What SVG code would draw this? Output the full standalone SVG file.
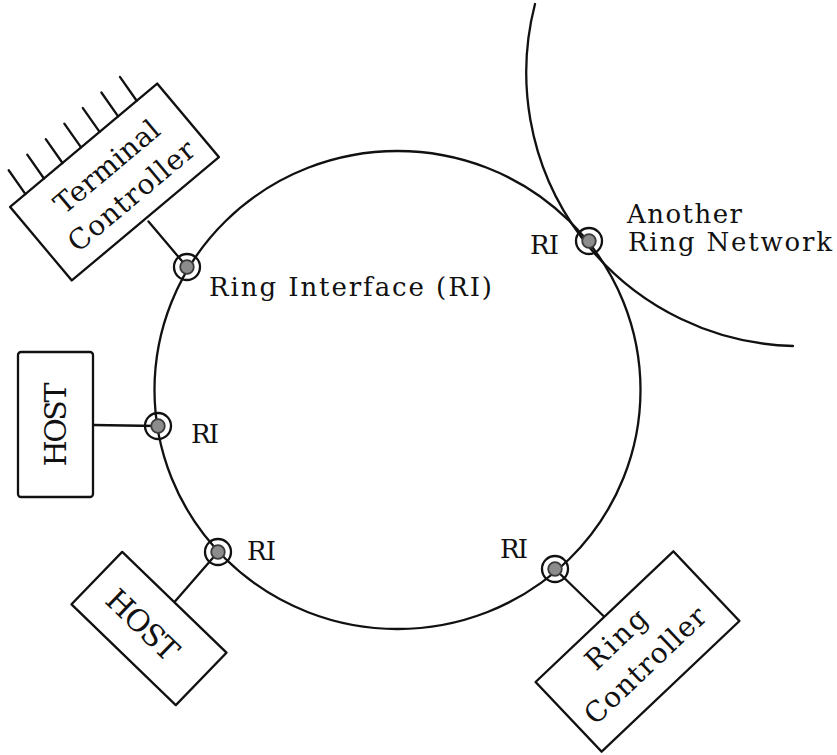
<svg xmlns="http://www.w3.org/2000/svg" xmlns:xlink="http://www.w3.org/1999/xlink" width="837" height="755" viewBox="0 0 837 755">
  <style>
    .line { fill: none; stroke: #111; stroke-width: 2.3; stroke-linecap: round; }
    .box { fill: #fff; stroke: #111; stroke-width: 2.3; stroke-linejoin: round; }
    .lbl { font-family: "DejaVu Serif", "Liberation Serif", serif; font-size: 26px; fill: #111; }
    .inbox { font-size: 28px; }
    .host { font-size: 30px; }
  </style>
  <defs>
    <!-- ring interface: open ring with a shaded core -->
    <g id="ri">
      <circle r="13" fill="none" stroke="#111" stroke-width="2.3"/>
      <circle r="6.8" fill="#8c8c8c" stroke="#3a3a3a" stroke-width="1.8"/>
    </g>
  </defs>
  <rect width="837" height="755" fill="#fff"/>

  <!-- rings and attachment lines -->
  <g id="connectors">
    <ellipse class="line" cx="397.5" cy="390" rx="243" ry="239"/>
    <path class="line" d="M535,4 A273.5,273.5 0 0 0 793,346"/>
    <line class="line" x1="187" y1="267" x2="148.5" y2="221.5"/>
    <line class="line" x1="93" y1="425" x2="158" y2="426"/>
    <line class="line" x1="218" y1="552" x2="174.5" y2="602"/>
    <line class="line" x1="555" y1="569" x2="604.5" y2="617"/>
  </g>

  <g id="terminal-controller" transform="translate(114.5,182) rotate(-40)">
    <rect class="box" x="-96" y="-48" width="192" height="96"/>
    <g class="line">
      <line x1="-76" y1="-48" x2="-73.5" y2="-77"/>
      <line x1="-51.8" y1="-48" x2="-49.3" y2="-77"/>
      <line x1="-27.6" y1="-48" x2="-25.1" y2="-77"/>
      <line x1="-3.4" y1="-48" x2="-0.9" y2="-77"/>
      <line x1="20.8" y1="-48" x2="23.3" y2="-77"/>
      <line x1="45" y1="-48" x2="47.5" y2="-77"/>
      <line x1="69.2" y1="-48" x2="71.7" y2="-77"/>
    </g>
    <text class="lbl inbox" x="4" y="-7" text-anchor="middle" textLength="128" lengthAdjust="spacing">Terminal</text>
    <text class="lbl inbox" x="4" y="31" text-anchor="middle" textLength="156" lengthAdjust="spacing">Controller</text>
  </g>

  <g id="host-left">
    <rect class="box" x="18" y="352" width="75" height="145" rx="3"/>
    <text class="lbl host" transform="translate(66,424.5) rotate(-90)" x="0" y="0" text-anchor="middle" textLength="84" lengthAdjust="spacing">HOST</text>
  </g>

  <g id="host-lower" transform="translate(149,628.5) rotate(44)">
    <rect class="box" x="-72.5" y="-36.5" width="145" height="73"/>
    <text class="lbl host" x="-7" y="12.5" text-anchor="middle" textLength="88" lengthAdjust="spacing">HOST</text>
  </g>

  <g id="ring-controller" transform="translate(637.5,651.5) rotate(-43.5)">
    <rect class="box" x="-95" y="-48" width="190" height="96"/>
    <text class="lbl inbox" x="-7" y="-14" text-anchor="middle" textLength="74" lengthAdjust="spacing">Ring</text>
    <text class="lbl inbox" x="-4" y="25" text-anchor="middle" textLength="156" lengthAdjust="spacing">Controller</text>
  </g>

  <g id="ri-nodes">
    <use xlink:href="#ri" x="187" y="267"/>
    <use xlink:href="#ri" x="158" y="426"/>
    <use xlink:href="#ri" x="218" y="552"/>
    <use xlink:href="#ri" x="555" y="569"/>
    <use xlink:href="#ri" x="589" y="241"/>
  </g>

  <g id="labels">
    <text class="lbl" x="209" y="296" textLength="283" lengthAdjust="spacing">Ring Interface (RI)</text>
    <text class="lbl" x="191" y="443" textLength="28" lengthAdjust="spacing">RI</text>
    <text class="lbl" x="247" y="560" textLength="29" lengthAdjust="spacing">RI</text>
    <text class="lbl" x="500" y="558" textLength="28" lengthAdjust="spacing">RI</text>
    <text class="lbl" x="530" y="254" textLength="29" lengthAdjust="spacing">RI</text>
    <text class="lbl" x="627" y="223" textLength="115" lengthAdjust="spacing">Another</text>
    <text class="lbl" x="628" y="251" textLength="204" lengthAdjust="spacing">Ring Network</text>
  </g>
</svg>
